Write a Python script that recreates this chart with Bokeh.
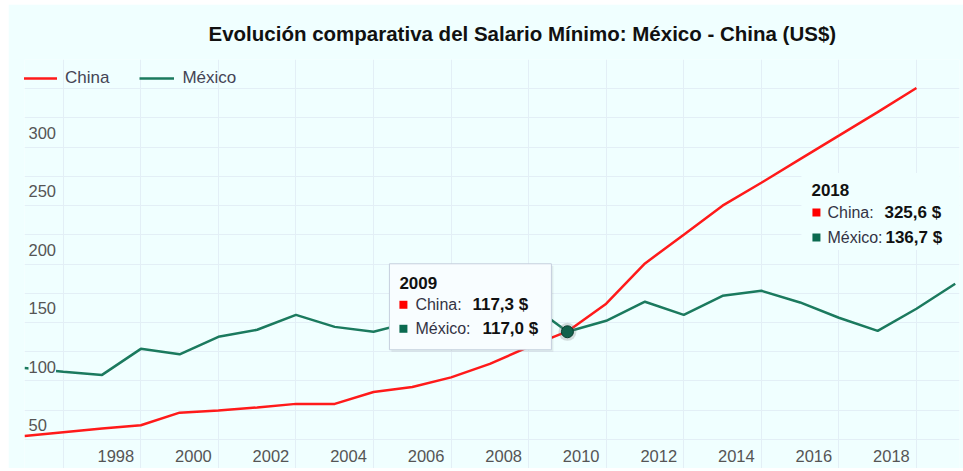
from bokeh.plotting import figure
from bokeh.models import (Range1d, Grid, FixedTicker, ColumnDataSource, LabelSet, Label,
                          Legend, LegendItem, Title)
from bokeh.embed import file_html
from bokeh.resources import INLINE
from bokeh.core.properties import value

# ---------------- data ----------------
title_text = "Evolución comparativa del Salario Mínimo: México - China (US$)"
series_names = ["China", "México"]
china_years = list(range(1995, 2019))
china_values = [27.8, 31.0, 34.2, 37.0, 47.8, 49.7, 52.3, 55.3, 55.3, 65.5, 69.8, 78.0,
                89.5, 104.1, 117.3, 141.0, 175.5, 200.1, 224.9, 244.5, 264.7, 284.8,
                305.0, 325.6]
mexico_years = list(range(1995, 2020))
mexico_values = [86.1, 82.7, 80.1, 102.4, 97.7, 112.7, 118.7, 131.5, 121.2, 117.0, 125.5,
                 130.5, 136.0, 141.5, 117.0, 126.4, 142.7, 131.5, 147.8, 152.1, 142.1,
                 129.0, 117.8, 136.7, 158.1]
y_tick_values = [50, 100, 150, 200, 250, 300]
y_tick_labels = ["50", "100", "150", "200", "250", "300"]
x_tick_years = [1998, 2000, 2002, 2004, 2006, 2008, 2010, 2012, 2014, 2016, 2018]
x_tick_labels = [str(y) for y in x_tick_years]
x_grid_years = list(range(1996, 2019, 2))
y_grid_values = list(range(25, 350, 25))
hover_year = 2009
pinned_year = 2018

# ---------------- style ----------------
BG = "#F0FFFF"
GRID = "#e3eff6"
RED = "#ff1a1a"
GREEN = "#1b7a5e"
SQ_RED = "#ff0000"
SQ_GREEN = "#0b6a50"
FONT = "Liberation Sans"

TOP_MARGIN = 4
W, H = 955, 464
ML, MR, MT, MB = 16, 4, 55, 0
frame_w = W - ML - MR
frame_h = H - MT - MB
x0 = 1995
px_per_year = 38.78
x1 = x0 + frame_w / px_per_year
y0, y1 = 0, 350


def dx(px):
    return px * (x1 - x0) / frame_w


def dy(px):
    return px * (y1 - y0) / frame_h


def fmt(v):
    return f"{v:.1f}".replace(".", ",") + " $"


p = figure(width=W, height=H, x_range=Range1d(x0, x1), y_range=Range1d(y0, y1),
           output_backend="svg", toolbar_location=None,
           x_axis_location=None, y_axis_location=None,
           min_border_left=ML, min_border_right=MR, min_border_top=MT, min_border_bottom=MB,
           background_fill_color=BG, border_fill_color=BG, outline_line_color=None)
p.margin = (TOP_MARGIN, 0, 0, 8)

p.add_layout(Title(text=title_text, text_font=FONT, text_font_size="20.5px",
                   text_font_style="bold", text_color="#111111",
                   align="left", offset=184, standoff=30), "above")

p.center = []
p.add_layout(Grid(dimension=0, ticker=FixedTicker(ticks=x_grid_years),
                  grid_line_color=GRID, grid_line_width=1))
p.add_layout(Grid(dimension=1, ticker=FixedTicker(ticks=y_grid_values),
                  grid_line_color=GRID, grid_line_width=1))

r_china = p.line(china_years, china_values, line_color=RED, line_width=2.5)
r_mex = p.line(mexico_years, mexico_values, line_color=GREEN, line_width=2.5)

# y tick labels (drawn inside the plot, with background)
ysrc = ColumnDataSource(dict(x=[x0] * len(y_tick_values), y=y_tick_values, t=y_tick_labels))
p.add_layout(LabelSet(x="x", y="y", text="t", source=ysrc, x_offset=4, y_offset=-15,
                      text_font=value(FONT), text_font_size="16.5px", text_color="#555555",
                      text_align="left", text_baseline="middle",
                      background_fill_color=BG))
# x tick labels
xsrc = ColumnDataSource(dict(x=x_tick_years, y=[y0] * len(x_tick_years), t=x_tick_labels))
p.add_layout(LabelSet(x="x", y="y", text="t", source=xsrc, x_offset=-25, y_offset=13,
                      text_font=value(FONT), text_font_size="16.5px", text_color="#555555",
                      text_align="center", text_baseline="middle"))

# legend
legend = Legend(items=[LegendItem(label=series_names[0], renderers=[r_china]),
                       LegendItem(label=series_names[1], renderers=[r_mex])],
                location=(-2, 378), orientation="horizontal",
                glyph_width=35, glyph_height=24, label_height=24, label_standoff=8,
                spacing=30, padding=0, margin=0,
                background_fill_alpha=0, border_line_alpha=0,
                label_text_font=FONT, label_text_font_size="17px",
                label_text_color="#444455")
p.add_layout(legend)

# ---------------- pinned 2018 info ----------------
ci = china_years.index(pinned_year)
mi = mexico_years.index(pinned_year)
ax, ay = pinned_year, china_values[ci]
p.rect(x=[ax + dx(-32 + 20)], y=[ay + dy(-123.5)], width=206, height=77,
       width_units="screen", height_units="screen", fill_color=BG, line_color=None)
p.scatter(x=[ax + dx(-100), ax + dx(-100)], y=[ay + dy(-124.5), ay + dy(-149.5)],
          marker="square", size=8, fill_color=[SQ_RED, SQ_GREEN], line_color=None)


def add_text(txt, axx, ayy, ox, oy, bold=False, color="#333344"):
    p.add_layout(Label(x=axx, y=ayy, x_offset=ox, y_offset=oy, text=txt,
                       text_font=FONT, text_font_size="17px" if bold else "16px",
                       text_font_style="bold" if bold else "normal",
                       text_color="#111111" if bold else color,
                       text_align="left", text_baseline="middle"))


add_text(str(pinned_year), ax, ay, -105, -101.5, bold=True)
add_text(series_names[0] + ":", ax, ay, -89, -124.5)
add_text(fmt(china_values[ci]), ax, ay, -32, -124.5, bold=True)
add_text(series_names[1] + ":", ax, ay, -89, -149.5)
add_text(fmt(mexico_values[mi]), ax, ay, -31, -149.5, bold=True)

# ---------------- hover tooltip at 2009 ----------------
hc = china_years.index(hover_year)
hm = mexico_years.index(hover_year)
hx, hy = hover_year, mexico_values[hm]
p.rect(x=[hx + dx(-95)], y=[hy + dy(23)], width=162, height=86,
       width_units="screen", height_units="screen", fill_color="#000000", fill_alpha=0.07,
       line_color=None)
p.rect(x=[hx + dx(-97)], y=[hy + dy(25)], width=162, height=86,
       width_units="screen", height_units="screen", fill_color="#f8fdff",
       line_color="#c5cfdd", line_width=1)
p.scatter(x=[hx + dx(-164), hx + dx(-164)], y=[hy + dy(27), hy + dy(3)],
          marker="square", size=8, fill_color=[SQ_RED, SQ_GREEN], line_color=None)
add_text(str(hover_year), hx, hy, -168, 49, bold=True)
add_text(series_names[0] + ":", hx, hy, -152, 27)
add_text(fmt(china_values[hc]), hx, hy, -95, 27, bold=True)
add_text(series_names[1] + ":", hx, hy, -152, 3)
add_text(fmt(mexico_values[hm]), hx, hy, -85, 3, bold=True)

p.scatter(x=[hx], y=[hy], size=18, fill_color="#777777", fill_alpha=0.25, line_color=None)
p.scatter(x=[hx], y=[hy], size=12, fill_color="#11614b", line_color="#0a3d2e", line_width=1)

open("out.html", "w").write(file_html(p, INLINE))
